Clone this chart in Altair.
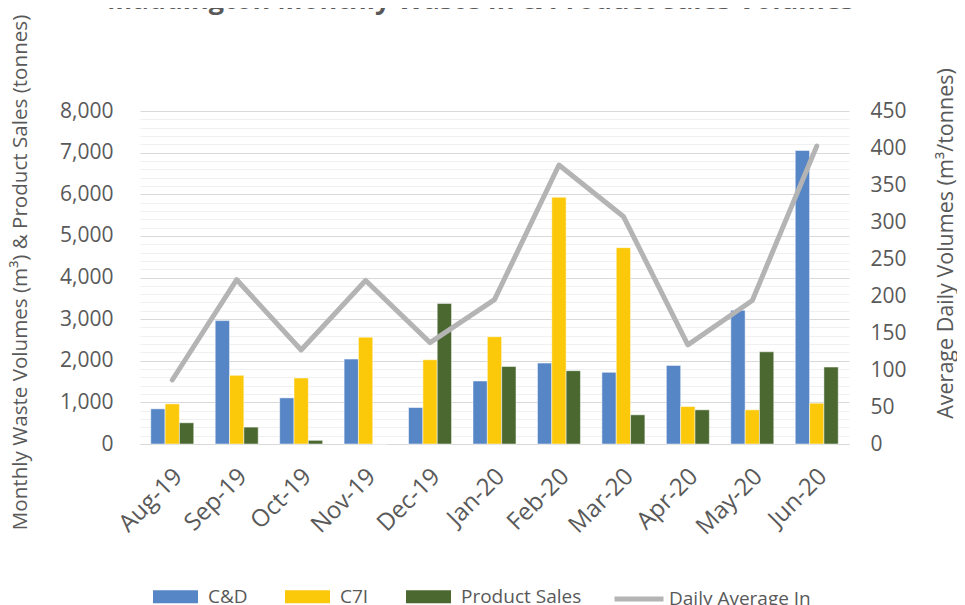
import altair as alt
import pandas as pd

months = ["Aug-19", "Sep-19", "Oct-19", "Nov-19", "Dec-19", "Jan-20",
          "Feb-20", "Mar-20", "Apr-20", "May-20", "Jun-20"]
series = ["C&D", "C7I", "Product Sales"]
cd_vals = [845, 2964, 1108, 2040, 876, 1514, 1944, 1721, 1888, 3211, 7052]
c7i_vals = [964, 1649, 1586, 2566, 2024, 2578, 5928, 4717, 900, 821, 980]
ps_vals = [510, 406, 88, 0, 3378, 1861, 1761, 701, 821, 2215, 1849]
daily_avg = [86.5, 222, 127, 221, 137, 195, 377, 307.5, 134, 194, 402.5]

bar_colors = ["#5686c6", "#fcc90a", "#4a6830"]
line_color = "#b4b4b4"
text_color = "#595959"
FONT = "Open Sans"

rows = []
for i, m in enumerate(months):
    for s, vals in zip(series, [cd_vals, c7i_vals, ps_vals]):
        rows.append({"month": m, "series": s, "value": vals[i]})
df_bars = pd.DataFrame(rows)
df_line = pd.DataFrame({"month": months, "daily": daily_avg,
                        "name": ["Daily Average In"] * len(months)})

x_enc = alt.X("month:N", sort=months, title=None,
              scale=alt.Scale(paddingInner=0.333, paddingOuter=0.167),
              axis=alt.Axis(labelAngle=-45, labelFont=FONT, labelFontSize=24,
                            labelColor=text_color, ticks=False, domainColor="#d9d9d9",
                            labelPadding=20, labelOffset=-2))

bars = alt.Chart(df_bars).mark_bar(stroke="white", strokeWidth=0.5).encode(
    x=x_enc,
    xOffset=alt.XOffset("series:N", sort=series,
                        scale=alt.Scale(paddingInner=0, paddingOuter=0)),
    y=alt.Y("value:Q", title="Monthly Waste Volumes (m³) & Product Sales (tonnes)",
            scale=alt.Scale(domain=[0, 8000], nice=False),
            axis=alt.Axis(values=list(range(0, 8001, 200)),
                          labelExpr="datum.value % 1000 === 0 ? format(datum.value, ',') : ''",
                          gridColor=alt.condition("datum.value % 1000 === 0",
                                                  alt.value("#d9d9d9"), alt.value("#f0f0f0")),
                          gridWidth=1.2,
                          domain=False, ticks=False, labelPadding=27,
                          labelFont=FONT, labelFontSize=21, labelColor=text_color,
                          titleFont=FONT, titleFontSize=20.6, titleFontWeight="normal",
                          titleColor=text_color, titleX=-119.5, titleY=161,
                          titleAngle=270, titleAlign="center", titleBaseline="middle")),
    color=alt.Color("series:N", sort=series,
                    scale=alt.Scale(domain=series, range=bar_colors),
                    legend=alt.Legend(title=None, orient="none", direction="horizontal",
                                      legendX=13, legendY=463, padding=0,
                                      symbolType="M-1,-0.29H1V0.29H-1Z", symbolSize=2025,
                                      symbolStrokeWidth=0, symbolOpacity=1,
                                      labelFont=FONT, labelFontSize=19, labelColor=text_color,
                                      labelOffset=10, columnPadding=37)),
)

line = alt.Chart(df_line).mark_line(strokeWidth=5, strokeJoin="round",
                                    strokeCap="round").encode(
    x=alt.X("month:N", sort=months),
    y=alt.Y("daily:Q", title="Average Daily Volumes (m³/tonnes)",
            scale=alt.Scale(domain=[0, 450], nice=False),
            axis=alt.Axis(orient="right", values=list(range(0, 451, 50)), grid=False,
                          domain=False, ticks=False, labelPadding=21,
                          labelFont=FONT, labelFontSize=21, labelColor=text_color,
                          titleFont=FONT, titleFontSize=21.5, titleFontWeight="normal",
                          titleColor=text_color, titleX=97, titleY=132,
                          titleAngle=270, titleAlign="center", titleBaseline="middle")),
    stroke=alt.Stroke("name:N", scale=alt.Scale(domain=["Daily Average In"], range=[line_color]),
                      legend=alt.Legend(title=None, orient="none", direction="horizontal",
                                        legendX=472, legendY=461, padding=0,
                                        symbolType="stroke", symbolSize=2401,
                                        symbolStrokeWidth=5, symbolStrokeColor=line_color,
                                        labelFont=FONT, labelFontSize=19, labelColor=text_color,
                                        labelOffset=3)),
)

chart = alt.layer(bars, line).resolve_scale(y="independent").properties(
    width=709, height=333,
    autosize=alt.AutoSizeParams(type="none"),
    padding={"left": 132, "top": 103, "right": 108, "bottom": 161},
    title=alt.TitleParams("Maddington Monthly Waste In & Product Sales Volumes",
                          font=FONT, fontSize=27, fontWeight="bold", color=text_color,
                          anchor="middle", dx=-14, baseline="alphabetic", offset=4, dy=26),
).configure_view(stroke=None)

chart.save("out.html", embed_options={"renderer": "svg", "actions": False})
